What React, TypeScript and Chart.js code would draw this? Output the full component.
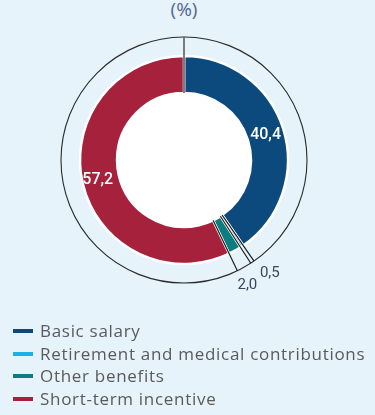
import React, { useEffect, useRef } from "react";
import { Chart, registerables } from "chart.js";

Chart.register(...registerables);

const categories = [
  "Basic salary",
  "Retirement and medical contributions",
  "Other benefits",
  "Short-term incentive",
];
const values = [40.4, 0.5, 2.0, 57.2];
const valueLabels = ["40,4", "0,5", "2,0", "57,2"];
const colors = ["#0c4a7d", "#1cb0e8", "#0b7d80", "#a6213c"];
const titleText = "(%)";

const BG = "#e6f3fb";

const ringPlugin = {
  id: "ringDecor",
  beforeDatasetsDraw(chart: any) {
    const meta = chart.getDatasetMeta(0);
    const a0 = meta.data[0];
    const { x, y, innerRadius, outerRadius } = a0.getProps(
      ["x", "y", "innerRadius", "outerRadius"],
      true
    );
    const ctx = chart.ctx;
    ctx.save();
    ctx.beginPath();
    ctx.arc(x, y, outerRadius + 19, 0, Math.PI * 2);
    ctx.strokeStyle = "#2a2a2a";
    ctx.lineWidth = 1.1;
    ctx.stroke();
    ctx.beginPath();
    ctx.arc(x, y, innerRadius, 0, Math.PI * 2);
    ctx.fillStyle = "#ffffff";
    ctx.fill();
    ctx.restore();
  },
  afterDatasetsDraw(chart: any) {
    const meta = chart.getDatasetMeta(0);
    const arcs = meta.data;
    const { x, y, innerRadius, outerRadius } = arcs[0].getProps(
      ["x", "y", "innerRadius", "outerRadius"],
      true
    );
    const ringR = outerRadius + 19;
    const ctx = chart.ctx;
    ctx.save();
    const line = (ang: number, color: string, w: number) => {
      ctx.beginPath();
      ctx.moveTo(x + innerRadius * Math.cos(ang), y + innerRadius * Math.sin(ang));
      ctx.lineTo(x + ringR * Math.cos(ang), y + ringR * Math.sin(ang));
      ctx.strokeStyle = color;
      ctx.lineWidth = w;
      ctx.stroke();
    };
    line(arcs[0].startAngle, "#5e5e5e", 1.6);
    line(arcs[1].startAngle, "#1e1e1e", 1.2);
    line(arcs[1].endAngle, "#1e1e1e", 1.2);
    line(arcs[2].endAngle, "#1e1e1e", 1.2);

    ctx.textAlign = "center";
    ctx.textBaseline = "middle";
    ctx.font = "500 16px Roboto";
    ctx.fillStyle = "#ffffff";
    [0, 3].forEach((i) => {
      const a = arcs[i];
      const mid = (a.startAngle + a.endAngle) / 2;
      const r = (innerRadius + outerRadius) / 2 + (i === 3 ? 3 : 0);
      ctx.fillText(valueLabels[i], x + r * Math.cos(mid), y + r * Math.sin(mid));
    });
    ctx.font = "15px Roboto";
    ctx.fillStyle = "#3d4659";
    const e1 = arcs[1].endAngle;
    ctx.fillText(valueLabels[1], x + ringR * Math.cos(e1) + 19, y + ringR * Math.sin(e1) + 10);
    const e2 = arcs[2].endAngle;
    ctx.fillText(valueLabels[2], x + ringR * Math.cos(e2) + 10, y + ringR * Math.sin(e2) + 14);
    ctx.restore();
  },
};

export default function App() {
  const canvasRef = useRef<HTMLCanvasElement | null>(null);

  useEffect(() => {
    document.body.style.background = BG;
    const chart = new Chart(canvasRef.current as HTMLCanvasElement, {
      type: "doughnut",
      data: {
        labels: categories,
        datasets: [
          {
            data: values,
            backgroundColor: colors,
            borderColor: "#ffffff",
            borderWidth: 2.5,
          },
        ],
      },
      options: {
        animation: false,
        responsive: false,
        maintainAspectRatio: false,
        radius: 104,
        cutout: "64.4%",
        layout: { padding: { left: 0, right: 7, top: 0, bottom: 0 } },
        plugins: {
          legend: { display: false },
          tooltip: { enabled: false },
          title: { display: false },
        },
      } as any,
      plugins: [ringPlugin],
    });
    return () => chart.destroy();
  }, []);

  return (
    <div
      style={{
        position: "absolute",
        left: 0,
        top: 0,
        width: 375,
        height: 415,
        background: BG,
        overflow: "hidden",
      }}
    >
      <div
        style={{
          position: "absolute",
          left: 0,
          top: -4,
          width: 368,
          textAlign: "center",
          font: "19px 'Open Sans'",
          color: "#52668a",
        }}
      >
        {titleText}
      </div>
      <canvas
        ref={canvasRef}
        width={375}
        height={320}
        style={{ position: "absolute", left: 0, top: 0, width: 375, height: 320 }}
      />
      <div
        style={{
          position: "absolute",
          left: 13,
          top: 320,
          font: "17px 'Open Sans'",
          letterSpacing: "0.7px",
          lineHeight: "22.5px",
          color: "#5a5a5a",
        }}
      >
        {categories.map((c, i) => (
          <div key={c} style={{ display: "flex", alignItems: "center", whiteSpace: "nowrap" }}>
            <span
              style={{
                display: "inline-block",
                width: 20,
                height: 4,
                background: colors[i],
                marginRight: 7,
              }}
            />
            <span>{c}</span>
          </div>
        ))}
      </div>
    </div>
  );
}
